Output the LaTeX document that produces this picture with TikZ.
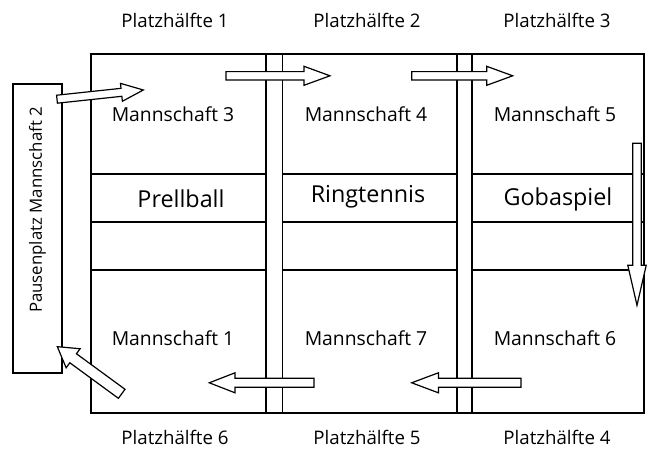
\documentclass[tikz,border=0pt]{standalone}
\usepackage{fontspec}
\setmainfont{Open Sans}
\usetikzlibrary{calc}

% Blockpfeil: Start, Winkel, Laenge, Kopflaenge, halbe Schaftbreite, halbe Kopfbreite
\newcommand{\blockpfeil}[6]{%
  \draw[fat, shift={#1}, rotate=#2]
    (0,-#5) -- ({#3-#4},-#5) -- ({#3-#4},-#6) -- (#3,0)
    -- ({#3-#4},#6) -- ({#3-#4},#5) -- (0,#5) -- cycle;}

\begin{document}
\begin{tikzpicture}[x=0.75pt, y=0.75pt, line width=0.9pt,
  lab/.style={font=\fontsize{14}{16}\selectfont},
  team/.style={font=\fontsize{14.5}{16}\selectfont},
  game/.style={font=\fontsize{17.5}{20}\selectfont},
  fat/.style={draw, fill=white, line join=miter}]
  \useasboundingbox (0,0) rectangle (651,-450);
  % Spielfeld
  \draw (91,-54) rectangle (644,-413);
  \foreach \x in {266,282.5,457,472} \draw (\x,-54) -- (\x,-413);
  \foreach \y in {174,222,270} {
    \draw (91,-\y) -- (266,-\y);
    \draw (282.5,-\y) -- (457,-\y);
    \draw (472,-\y) -- (644,-\y);
  }
  % Pausenplatz
  \draw (13,-84) rectangle (62,-373);
  \node[font=\fontsize{12.6}{14}\selectfont, rotate=90] (pause) at (37.5,-210)
    {Pausenplatz Mannschaft 2};
  % Beschriftung
  \foreach \x/\i/\j in {175/1/6, 367/2/5, 557/3/4} {
    \node[lab] (oben\i) at (\x,-20) {Platzhälfte \i};
    \node[lab] (unten\j) at (\x,-437) {Platzhälfte \j};
  }
  \foreach \x/\i/\j in {173/3/1, 366/4/7, 555/5/6} {
    \node[team] (m\i) at (\x,-114) {Mannschaft \i};
    \node[team] (m\j) at (\x,-338) {Mannschaft \j};
  }
  \node[game] (prell) at (181,-199) {Prellball};
  \node[game] (ring) at (368,-197) {Ringtennis};
  \node[game] (goba) at (558,-199) {Gobaspiel};
  % Wechsel
  \blockpfeil{(57,-99.2)}{6.1}{86.8}{22}{4}{9}
  \blockpfeil{(226,-75.8)}{0}{104}{26}{4.2}{9.5}
  \blockpfeil{(411.7,-75.8)}{0}{101}{26}{4.2}{9.5}
  \blockpfeil{(637,-143.3)}{-90}{162}{40}{4.3}{9.2}
  \blockpfeil{(521,-382.8)}{180}{109.3}{26.7}{4.5}{10}
  \blockpfeil{(314,-382.8)}{180}{104.7}{25.7}{4.5}{10}
  \blockpfeil{(121.7,-393.8)}{143.8}{79.8}{19.6}{5.6}{11.8}
\end{tikzpicture}
\end{document}
